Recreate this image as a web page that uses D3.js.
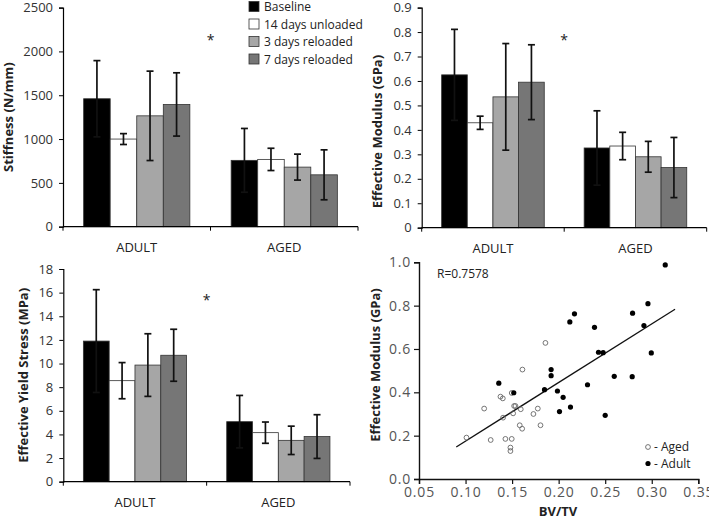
<!DOCTYPE html>
<html>
<head>
<meta charset="utf-8">
<script src="https://cdn.jsdelivr.net/npm/d3@7"></script>
<style>
  body { margin: 0; background: #fff; }
  svg { display: block; font-family: "Open Sans", sans-serif; }
</style>
</head>
<body>
<div id="chart"></div>
<script>
const WIDTH = 709
const HEIGHT = 519

// data
const groups = ["ADULT", "AGED"]
const seriesNames = ["Baseline", "14 days unloaded", "3 days reloaded", "7 days reloaded"]
const seriesColors = ["#000000", "#ffffff", "#a6a6a6", "#767676"]

const stiffAdult = [1460, 1000, 1265, 1395]
const stiffAdultSd = [435, 62, 510, 361]
const stiffAged = [757, 768, 680, 592]
const stiffAgedSd = [364, 127, 148, 285]

const modAdult = [0.625, 0.429, 0.535, 0.595]
const modAdultSd = [0.186, 0.027, 0.218, 0.153]
const modAged = [0.326, 0.334, 0.290, 0.246]
const modAgedSd = [0.152, 0.056, 0.063, 0.123]

const yieldAdult = [11.9, 8.55, 9.87, 10.7]
const yieldAdultSd = [4.35, 1.53, 2.65, 2.2]
const yieldAged = [5.08, 4.15, 3.5, 3.82]
const yieldAgedSd = [2.22, 0.9, 1.2, 1.85]

const stiffTicks = [0, 500, 1000, 1500, 2000, 2500]
const modTicks = [0, 0.1, 0.2, 0.3, 0.4, 0.5, 0.6, 0.7, 0.8, 0.9]
const yieldTicks = [0, 2, 4, 6, 8, 10, 12, 14, 16, 18]

// scatter: BV/TV vs effective modulus
const agedBv = [0.101, 0.120, 0.127, 0.1375, 0.140, 0.1403, 0.1428, 0.1496, 0.1482, 0.1482, 0.1496, 0.1522, 0.1536, 0.1511, 0.1593, 0.1582, 0.1608, 0.1611, 0.1729, 0.1776, 0.1805, 0.1858]
const agedMod = [0.191, 0.325, 0.180, 0.380, 0.372, 0.283, 0.185, 0.185, 0.145, 0.129, 0.397, 0.337, 0.337, 0.303, 0.322, 0.248, 0.232, 0.505, 0.300, 0.325, 0.248, 0.628]
const adultBv = [0.1357, 0.1518, 0.1848, 0.1919, 0.1919, 0.1987, 0.2048, 0.2009, 0.2127, 0.2120, 0.2170, 0.2310, 0.2385, 0.2428, 0.2478, 0.2500, 0.2597, 0.2790, 0.2794, 0.2916, 0.2959, 0.2995, 0.3145]
const adultMod = [0.442, 0.398, 0.412, 0.477, 0.505, 0.406, 0.377, 0.311, 0.332, 0.725, 0.762, 0.435, 0.700, 0.585, 0.583, 0.294, 0.474, 0.472, 0.765, 0.708, 0.809, 0.582, 0.988]
const fitBv = [0.090, 0.325]
const fitMod = [0.148, 0.783]
const bvTicks = [0.05, 0.10, 0.15, 0.20, 0.25, 0.30, 0.35]
const scatterTicks = [0, 0.2, 0.4, 0.6, 0.8, 1.0]

const svg = d3.select("#chart")
    .append("svg")
    .attr("width", WIDTH)
    .attr("height", HEIGHT)

// bar panel (Excel style)
function barPanel(opt) {
    const g = svg.append("g")

    const x = d3.scaleBand()
        .domain(groups)
        .range([opt.x0, opt.x1])
        .paddingInner(0.28)
        .paddingOuter(0.14)
    const xs = d3.scaleBand()
        .domain(d3.range(seriesNames.length))
        .range([0, x.bandwidth()])
    const y = d3.scaleLinear()
        .domain([0, opt.ticks[opt.ticks.length - 1]])
        .range([opt.y0, opt.y1])

    const rows = []
    groups.forEach((grp, gi) => {
        opt.values[gi].forEach((v, si) => {
            rows.push({ grp: grp, s: si, v: v, sd: opt.sds[gi][si] })
        })
    })

    // bars
    g.selectAll("rect.bar")
        .data(rows)
        .enter()
        .append("rect")
        .attr("class", "bar")
        .attr("x", d => x(d.grp) + xs(d.s))
        .attr("y", d => y(d.v))
        .attr("width", xs.bandwidth())
        .attr("height", d => y(0) - y(d.v))
        .attr("fill", d => seriesColors[d.s])
        .attr("stroke", "#333")
        .attr("stroke-width", 0.8)

    // error bars
    const eb = g.selectAll("g.err")
        .data(rows)
        .enter()
        .append("g")
        .attr("stroke", "#111")
        .attr("stroke-width", 1.7)
    const cx = d => x(d.grp) + xs(d.s) + xs.bandwidth() / 2
    eb.append("line")
        .attr("x1", cx).attr("x2", cx)
        .attr("y1", d => y(d.v + d.sd)).attr("y2", d => y(d.v - d.sd))
    eb.append("line")
        .attr("x1", d => cx(d) - 3.5).attr("x2", d => cx(d) + 3.5)
        .attr("y1", d => y(d.v + d.sd)).attr("y2", d => y(d.v + d.sd))
    eb.append("line")
        .attr("x1", d => cx(d) - 3.5).attr("x2", d => cx(d) + 3.5)
        .attr("y1", d => y(d.v - d.sd)).attr("y2", d => y(d.v - d.sd))

    // y axis
    const ya = g.append("g")
        .attr("transform", `translate(${opt.x0},0)`)
        .call(d3.axisLeft(y).tickValues(opt.ticks).tickSize(4).tickPadding(6).tickFormat(opt.fmt))
    ya.select(".domain").attr("stroke", "#000").attr("stroke-width", 1.2)
    ya.selectAll(".tick line").attr("stroke", "#000")
    ya.selectAll("text").attr("font-size", 13).attr("fill", "#333").attr("font-family", "Open Sans")

    // x axis
    g.append("line")
        .attr("x1", opt.x0).attr("x2", opt.x1)
        .attr("y1", y(0)).attr("y2", y(0))
        .attr("stroke", "#000").attr("stroke-width", 1.2)
    const bounds = [opt.x0, (opt.x0 + opt.x1) / 2, opt.x1]
    g.selectAll("line.xt")
        .data(bounds)
        .enter()
        .append("line")
        .attr("x1", d => d).attr("x2", d => d)
        .attr("y1", y(0)).attr("y2", y(0) + 4)
        .attr("stroke", "#000")
    g.selectAll("text.cat")
        .data(groups)
        .enter()
        .append("text")
        .attr("x", d => x(d) + x.bandwidth() / 2)
        .attr("y", y(0) + 25)
        .attr("text-anchor", "middle")
        .attr("font-size", 13)
        .attr("fill", "#222")
        .text(d => d)

    // title
    g.append("text")
        .attr("transform", `translate(${opt.titleX},${(opt.y0 + opt.y1) / 2 + opt.titleDy}) rotate(-90)`)
        .attr("text-anchor", "middle")
        .attr("font-size", 13)
        .attr("font-weight", "bold")
        .attr("fill", "#222")
        .text(opt.title)

    // significance mark
    g.append("text")
        .attr("x", (opt.x0 + opt.x1) / 2)
        .attr("y", opt.starY)
        .attr("text-anchor", "middle")
        .attr("font-size", 14)
        .attr("fill", "#222")
        .text("*")
}

barPanel({
    x0: 63, x1: 358, y0: 226.7, y1: 7.6,
    values: [stiffAdult, stiffAged], sds: [stiffAdultSd, stiffAgedSd],
    ticks: stiffTicks, fmt: d3.format("d"),
    title: "Stiffness (N/mm)", titleX: 13, titleDy: 0, starY: 45
})
barPanel({
    x0: 421.7, x1: 706.7, y0: 227.7, y1: 7.6,
    values: [modAdult, modAged], sds: [modAdultSd, modAgedSd],
    ticks: modTicks, fmt: d => d === 0 ? "0" : d3.format(".1f")(d),
    title: "Effective Modulus (GPa)", titleX: 382, titleDy: 14, starY: 45
})
barPanel({
    x0: 63.3, x1: 350, y0: 481.7, y1: 269,
    values: [yieldAdult, yieldAged], sds: [yieldAdultSd, yieldAgedSd],
    ticks: yieldTicks, fmt: d3.format("d"),
    title: "Effective Yield Stress  (MPa)", titleX: 27.5, titleDy: 0, starY: 305
})

// legend
const legend = svg.append("g")
    .attr("transform", "translate(249,0)")
legend.selectAll("rect")
    .data(seriesNames)
    .enter()
    .append("rect")
    .attr("x", 0)
    .attr("y", (d, i) => 1.5 + i * 17.5)
    .attr("width", 10)
    .attr("height", 10)
    .attr("fill", (d, i) => seriesColors[i])
    .attr("stroke", "#333")
    .attr("stroke-width", 0.8)
legend.selectAll("text")
    .data(seriesNames)
    .enter()
    .append("text")
    .attr("x", 15)
    .attr("y", (d, i) => 11 + i * 17.5)
    .attr("font-size", 12)
    .attr("fill", "#222")
    .text(d => d)

// scatter panel
const sx = d3.scaleLinear().domain([0.05, 0.35]).range([419, 698.3])
const sy = d3.scaleLinear().domain([0, 1]).range([479, 262.3])
const sc = svg.append("g")

sc.append("g")
    .attr("transform", "translate(0,479)")
    .call(d3.axisBottom(sx).tickValues(bvTicks).tickSize(5).tickPadding(3).tickFormat(d3.format(".2f")))
sc.append("g")
    .attr("transform", "translate(419,0)")
    .call(d3.axisLeft(sy).tickValues(scatterTicks).tickSize(5).tickPadding(3).tickFormat(d3.format(".1f")))
sc.selectAll(".domain").attr("stroke", "#111").attr("stroke-width", 1.4)
sc.selectAll(".tick line").attr("stroke", "#111").attr("stroke-width", 1.2)
sc.selectAll(".tick text")
    .attr("font-size", 14)
    .attr("letter-spacing", 0.8)
    .attr("fill", "#555")
    .attr("font-family", "Open Sans")

sc.append("line")
    .attr("x1", sx(fitBv[0])).attr("y1", sy(fitMod[0]))
    .attr("x2", sx(fitBv[1])).attr("y2", sy(fitMod[1]))
    .attr("stroke", "#111")
    .attr("stroke-width", 1.3)

sc.selectAll("circle.aged")
    .data(d3.zip(agedBv, agedMod))
    .enter()
    .append("circle")
    .attr("cx", d => sx(d[0]))
    .attr("cy", d => sy(d[1]))
    .attr("r", 2.4)
    .attr("fill", "none")
    .attr("stroke", "#666")
    .attr("stroke-width", 0.9)
sc.selectAll("circle.adult")
    .data(d3.zip(adultBv, adultMod))
    .enter()
    .append("circle")
    .attr("cx", d => sx(d[0]))
    .attr("cy", d => sy(d[1]))
    .attr("r", 2.6)
    .attr("fill", "#000")

sc.append("text")
    .attr("x", 437).attr("y", 278)
    .attr("font-size", 12)
    .attr("fill", "#222")
    .text("R=0.7578")

sc.append("text")
    .attr("transform", "translate(380,365) rotate(-90)")
    .attr("text-anchor", "middle")
    .attr("font-size", 13)
    .attr("font-weight", "bold")
    .attr("fill", "#222")
    .text("Effective Modulus (GPa)")
sc.append("text")
    .attr("x", 558).attr("y", 516)
    .attr("text-anchor", "middle")
    .attr("font-size", 13)
    .attr("font-weight", "bold")
    .attr("fill", "#222")
    .text("BV/TV")

// scatter legend
sc.append("circle")
    .attr("cx", 648).attr("cy", 447).attr("r", 2.4)
    .attr("fill", "none").attr("stroke", "#666").attr("stroke-width", 0.9)
sc.append("circle")
    .attr("cx", 648).attr("cy", 463.5).attr("r", 2.6)
    .attr("fill", "#000")
sc.append("text")
    .attr("x", 654).attr("y", 451)
    .attr("font-size", 12).attr("fill", "#222")
    .text("- Aged")
sc.append("text")
    .attr("x", 654).attr("y", 468)
    .attr("font-size", 12).attr("fill", "#222")
    .text("- Adult")
</script>
</body>
</html>
